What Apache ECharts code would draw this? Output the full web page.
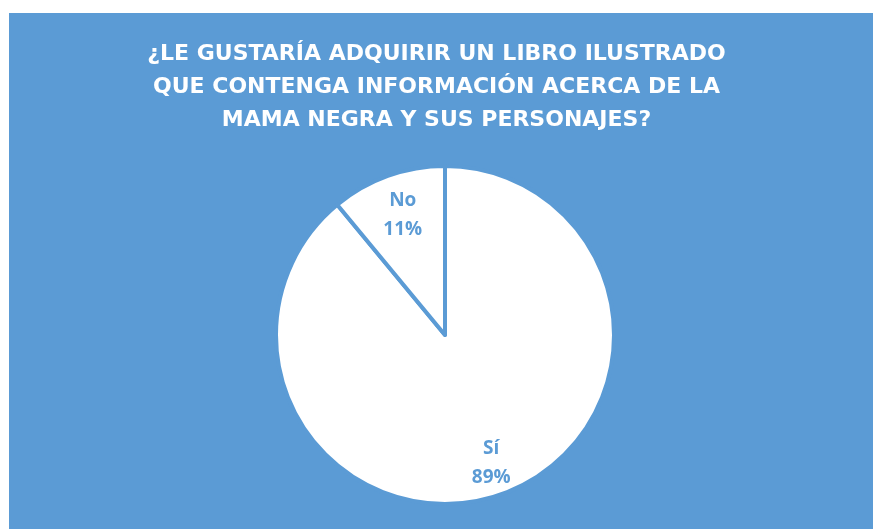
<!DOCTYPE html>
<html>
<head>
<meta charset="utf-8">
<script src="https://cdn.jsdelivr.net/npm/echarts@6/dist/echarts.min.js"></script>
<style>
  html, body { margin: 0; padding: 0; background: #ffffff; }
  #chart { width: 873px; height: 529px; }
</style>
</head>
<body>
<div id="chart"></div>
<script>
// Survey answers and their shares (%)
const categories = ['Sí', 'No'];
const shares = [89, 11];
const titleText = '¿LE GUSTARÍA ADQUIRIR UN LIBRO ILUSTRADO\nQUE CONTENGA INFORMACIÓN ACERCA DE LA\nMAMA NEGRA Y SUS PERSONAJES?';

const blue = '#5b9bd5';
const pieCenter = [445, 335];
const pieRadius = 169;

// small nudge so the narrow slice's label sits a little lower
const labelOffsets = { 'No': [4, 9] };

const slices = categories.map((name, i) => ({ name: name, value: shares[i] }));
const labelSlices = categories.map((name, i) => ({
  name: name,
  value: shares[i],
  label: labelOffsets[name] ? { offset: labelOffsets[name] } : {}
}));

const chart = echarts.init(document.getElementById('chart'), null, { renderer: 'canvas' });
chart.setOption({
  backgroundColor: '#ffffff',
  animation: false,
  graphic: [{
    type: 'rect',
    z: -10,
    shape: { x: 9, y: 13, width: 864, height: 516 },
    style: { fill: blue }
  }],
  title: {
    text: titleText,
    left: 'center',
    top: 33,
    textStyle: {
      color: '#ffffff',
      fontFamily: 'DejaVu Sans',
      fontWeight: 'bold',
      fontSize: 22,
      lineHeight: 33
    }
  },
  series: [
    {
      type: 'pie',
      center: pieCenter,
      radius: pieRadius,
      startAngle: 90,
      clockwise: true,
      silent: true,
      label: { show: false },
      labelLine: { show: false },
      itemStyle: { color: '#ffffff', borderColor: blue, borderWidth: 4 },
      data: slices
    },
    {
      // label ring: places each label at ~4/5 of the radius
      type: 'pie',
      center: pieCenter,
      radius: [pieRadius * 0.58, pieRadius],
      startAngle: 90,
      clockwise: true,
      silent: true,
      itemStyle: { color: 'rgba(0,0,0,0)' },
      labelLine: { show: false },
      label: {
        show: true,
        position: 'inside',
        formatter: p => p.name + '\n' + p.value + '%',
        color: blue,
        fontFamily: 'Open Sans',
        fontWeight: 'bold',
        fontSize: 19,
        lineHeight: 29
      },
      data: labelSlices
    }
  ]
});
</script>
</body>
</html>
